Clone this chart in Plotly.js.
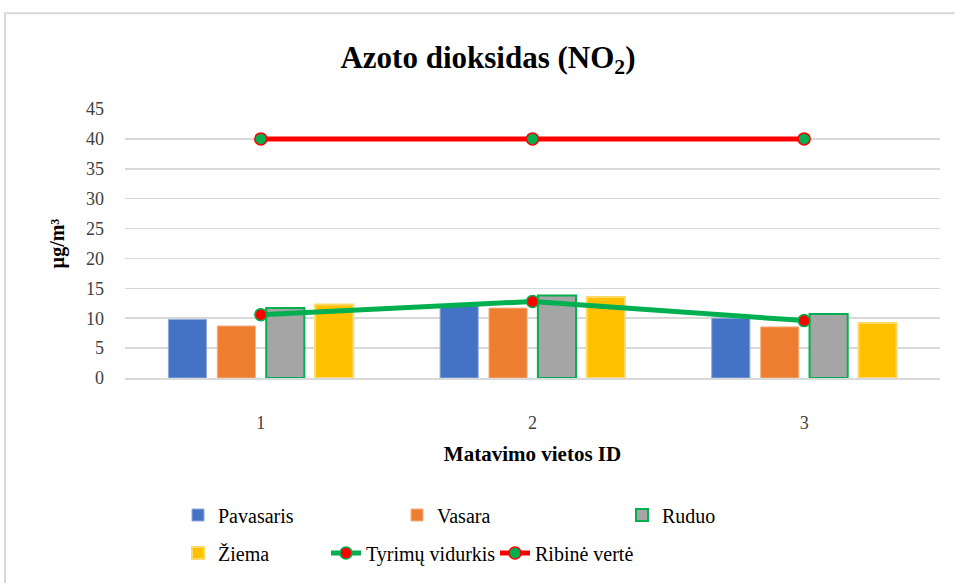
<!DOCTYPE html>
<html>
<head>
<meta charset="utf-8">
<script src="https://cdn.plot.ly/plotly-3.0.1.min.js"></script>
<style>
  html, body { margin: 0; padding: 0; background: #fff; }
</style>
</head>
<body>
<div id="chart" style="width:955px;height:583px"></div>
<script>
const categories = ["1", "2", "3"];
const pavasaris = [9.8, 12.1, 10.0];
const vasara = [8.7, 11.7, 8.55];
const ruduo = [11.7, 13.8, 10.7];
const ziema = [12.3, 13.55, 9.2];
const tyrimuVidurkis = [10.6, 12.8, 9.6];
const ribineVerte = [40, 40, 40];
const yTicks = [0, 5, 10, 15, 20, 25, 30, 35, 40, 45];

const serif = "Liberation Serif";
const L = 125, R = 940, T = 109, B = 379;
const W = 955, H = 583;
const px2x = p => (p - L) / (R - L);
const px2y = p => (B - p) / (B - T);

const traces = [
  { type: "bar", name: "Pavasaris", x: categories, y: pavasaris,
    marker: { color: "#4472C4", line: { color: "#8FAADC", width: 1 } }, legend: "legend" },
  { type: "bar", name: "Vasara", x: categories, y: vasara,
    marker: { color: "#ED7D31", line: { color: "#F4B183", width: 1 } }, legend: "legend2" },
  { type: "bar", name: "Ruduo", x: categories, y: ruduo,
    marker: { color: "#A5A5A5", line: { color: "#00B050", width: 2 } }, legend: "legend3" },
  { type: "bar", name: "Žiema", x: categories, y: ziema,
    marker: { color: "#FFC000", line: { color: "#FFD966", width: 2 } }, legend: "legend4" },
  { type: "scatter", mode: "lines+markers", name: "Tyrimų vidurkis", x: categories, y: tyrimuVidurkis,
    line: { color: "#00B050", width: 5 },
    marker: { color: "#FF0000", size: 12, line: { color: "#00B050", width: 1.5 } }, legend: "legend5" },
  { type: "scatter", mode: "lines+markers", name: "Ribinė vertė", x: categories, y: ribineVerte,
    line: { color: "#FF0000", width: 5 },
    marker: { color: "#00B050", size: 12, line: { color: "#FF0000", width: 1.5 } }, legend: "legend6" }
];

function leg(textX, rowY) {
  return { x: px2x(textX - 40), y: px2y(rowY), xanchor: "left", yanchor: "middle",
           font: { family: serif, size: 20, color: "#000" },
           bgcolor: "rgba(0,0,0,0)", borderwidth: 0 };
}

const layout = {
  width: W, height: H,
  font: { family: serif, color: "#000" },
  margin: { l: L, r: W - R, t: T, b: H - B, pad: 0 },
  paper_bgcolor: "#fff", plot_bgcolor: "#fff",
  showlegend: true,
  title: { text: "<b>Azoto dioksidas (NO<sub>2</sub>)</b>", font: { family: serif, size: 31, color: "#000" },
           x: 0.511, xref: "container", y: 1 - 57 / H, yref: "container", yanchor: "middle" },
  barmode: "group", bargap: 0.28, bargroupgap: 0.22,
  xaxis: {
    type: "category", range: [-0.5, 2.5],
    showgrid: false, zeroline: false, showline: true, linecolor: "#d9d9d9", linewidth: 1.5,
    ticks: "", tickfont: { family: serif, size: 18, color: "#404040" }, ticklabelstandoff: 28,
    title: { text: "<b>Matavimo vietos ID</b>", font: { family: serif, size: 21, color: "#000" }, standoff: 14 }
  },
  yaxis: {
    range: [0, 45], tickvals: yTicks, showgrid: true, gridcolor: "#d9d9d9", gridwidth: 1.5,
    zeroline: false, showline: false,
    ticks: "", tickfont: { family: serif, size: 18, color: "#404040" }, ticklabelstandoff: 20,
    title: { text: "<b>µg/m³</b>", font: { family: serif, size: 20, color: "#000" }, standoff: 16 }
  },
  shapes: [{ type: "rect", xref: "paper", yref: "paper", layer: "below",
             x0: px2x(5), y0: px2y(13), x1: px2x(1000), y1: px2y(700),
             line: { color: "#d9d9d9", width: 2 }, fillcolor: "rgba(0,0,0,0)" }],
  legend: leg(218, 515),
  legend2: leg(437, 515),
  legend3: leg(662, 515),
  legend4: leg(218, 553),
  legend5: leg(366, 553),
  legend6: leg(535, 553)
};

Plotly.newPlot("chart", traces, layout, { displayModeBar: false, staticPlot: true });
</script>
</body>
</html>
